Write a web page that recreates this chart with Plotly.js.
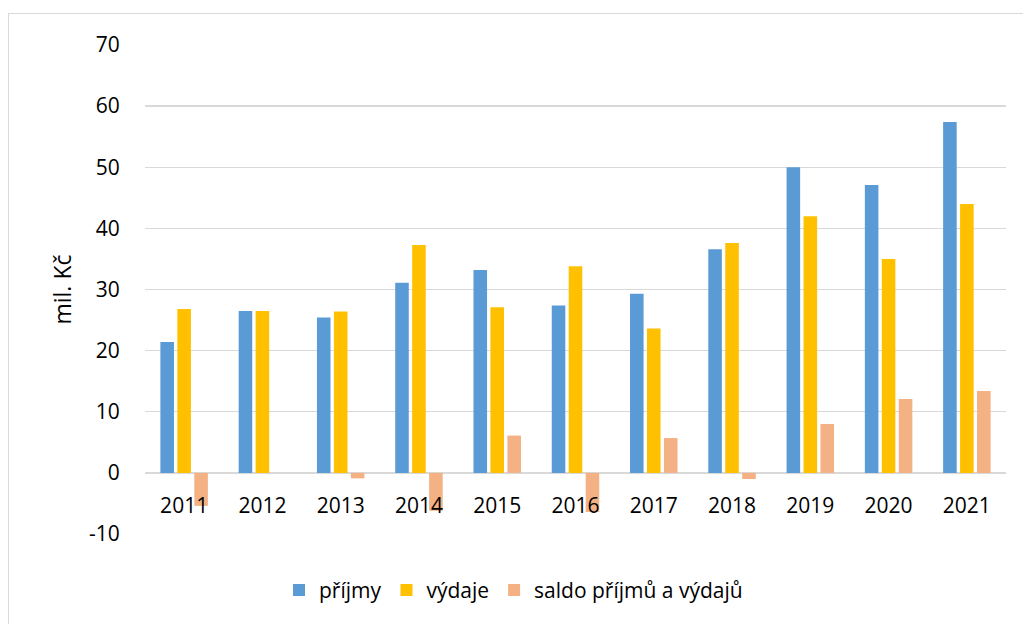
<!DOCTYPE html>
<html>
<head>
<meta charset="utf-8">
<script src="https://cdn.plot.ly/plotly-3.0.1.min.js"></script>
<style>
  html, body { margin: 0; padding: 0; background: #fff; overflow: hidden; }
  #chart { width: 1023px; height: 624px; position: absolute; left: 0; top: 0; }
  #frame { position: absolute; left: 8px; top: 13px; width: 1100px; height: 700px;
           border: 1.5px solid #d9d9d9; pointer-events: none; }
</style>
</head>
<body>
<div id="chart"></div>
<div id="frame"></div>
<script>
const years = ["2011","2012","2013","2014","2015","2016","2017","2018","2019","2020","2021"];
const prijmy = [21.4, 26.5, 25.4, 31.1, 33.2, 27.4, 29.3, 36.6, 50.0, 47.1, 57.4];
const vydaje = [26.8, 26.5, 26.4, 37.3, 27.1, 33.8, 23.6, 37.6, 42.0, 35.0, 44.0];
const saldo  = [-5.4, 0.0, -0.9, -6.2, 6.1, -6.4, 5.7, -1.0, 8.0, 12.1, 13.4];
const seriesNames = ["příjmy", "výdaje", "saldo příjmů a výdajů"];
const yTitle = "mil. Kč";
const yRange = [-10, 70];
const yTickVals = [-10, 0, 10, 20, 30, 40, 50, 60, 70];
const yTickText = ["-10", "0", "10", "20", "30", "40", "50", "60", "70"];

const colors = ["#5B9BD5", "#FFC000", "#F4B183"];
const font = "Open Sans, Noto Sans, Liberation Sans, sans-serif";

const traces = [prijmy, vydaje, saldo].map((vals, i) => ({
  type: "bar",
  name: seriesNames[i],
  x: years,
  y: vals,
  marker: { color: colors[i], line: { width: 0 } },
  hoverinfo: "x+y+name"
}));

const zeroPos = (0 - yRange[0]) / (yRange[1] - yRange[0]);

const layout = {
  width: 1023, height: 624,
  margin: { l: 145, r: 17, t: 45, b: 90 },
  paper_bgcolor: "rgba(0,0,0,0)",
  plot_bgcolor: "#fff",
  barmode: "group",
  bargap: 0.35,
  bargroupgap: 0.2,
  font: { family: font, size: 20, color: "#000" },
  xaxis: {
    type: "category",
    anchor: "free",
    position: zeroPos,
    showgrid: false,
    showline: false,
    zeroline: false,
    ticks: "outside",
    ticklen: 14,
    tickcolor: "rgba(0,0,0,0)",
    tickfont: { family: font, size: 21, color: "#000" }
  },
  yaxis: {
    range: yRange,
    tickmode: "array",
    tickvals: yTickVals,
    ticktext: yTickText,
    showgrid: true,
    gridcolor: "#d9d9d9",
    gridwidth: 1.4,
    zeroline: true,
    zerolinecolor: "#d9d9d9",
    zerolinewidth: 1.5,
    showline: false,
    ticks: "outside",
    ticklen: 20,
    tickcolor: "rgba(0,0,0,0)",
    tickfont: { family: font, size: 21, color: "#000" },
    title: { text: yTitle, font: { family: font, size: 23, color: "#000" }, standoff: 10 }
  },
  showlegend: true,
  legend: {
    orientation: "h",
    x: 0.428, xanchor: "center",
    y: -0.115, yanchor: "middle",
    font: { family: font, size: 21, color: "#000" },
    bgcolor: "rgba(0,0,0,0)"
  }
};

Plotly.newPlot("chart", traces, layout, { displayModeBar: false, staticPlot: true });
</script>
</body>
</html>
